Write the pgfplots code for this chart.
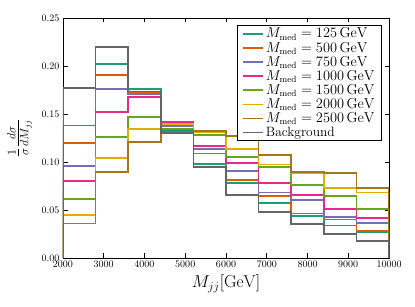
\documentclass[border=0pt]{standalone}
\usepackage{pgfplots}
\pgfplotsset{compat=1.18}
\usepackage{pgfplotstable}
\definecolor{cA}{HTML}{1B9E77}
\definecolor{cB}{HTML}{D95F02}
\definecolor{cC}{HTML}{7570B3}
\definecolor{cD}{HTML}{E7298A}
\definecolor{cE}{HTML}{66A61E}
\definecolor{cF}{HTML}{E6AB02}
\definecolor{cG}{HTML}{A6761D}
\definecolor{cH}{HTML}{666666}
\pgfplotstableread{
x a b c d e f g h
2000 0 0 0 0 0 0 0 0
2000 0.138 0.1195 0.096 0.080 0.0615 0.0448 0.036 0.177
2800 0.202 0.1906 0.1757 0.152 0.1264 0.1038 0.0893 0.220
3600 0.176 0.172 0.1705 0.168 0.1466 0.1347 0.1208 0.1735
4400 0.1323 0.141 0.1375 0.142 0.135 0.1395 0.134 0.130
5200 0.0976 0.109 0.1139 0.117 0.128 0.131 0.1322 0.0945
6000 0.0778 0.0813 0.0906 0.0986 0.1055 0.1135 0.1274 0.0656
6800 0.057 0.0648 0.0682 0.0778 0.0951 0.0973 0.1073 0.0479
7600 0.0438 0.0462 0.0604 0.0658 0.0764 0.0885 0.0899 0.0351
8400 0.0338 0.040 0.0424 0.0513 0.0647 0.0726 0.0889 0.0248
9200 0.0265 0.0282 0.0368 0.042 0.051 0.0682 0.073 0.018
10000 0.0265 0.0282 0.0368 0.042 0.051 0.0682 0.073 0.018
10000 0 0 0 0 0 0 0 0
}\data
\begin{document}
\begin{tikzpicture}
\begin{axis}[name=ax, scale only axis, width=326pt, height=240pt,
  xmin=2000, xmax=10000, ymin=0, ymax=0.25,
  xtick={2000,3000,4000,5000,6000,7000,8000,9000,10000},
  ytick={0,0.05,0.10,0.15,0.20,0.25},
  scaled x ticks=false, scaled y ticks=false,
  yticklabel style={/pgf/number format/.cd, fixed, fixed zerofill, precision=2},
  xticklabel style={/pgf/number format/.cd, fixed, 1000 sep={}},
  tick label style={font=\fontsize{10}{12}\selectfont},
  tick align=inside, tick pos=both, major tick length=4.5pt,
  axis line style={line width=0.8pt},
  every tick/.style={black, line width=0.6pt},
  xlabel={$M_{jj}[\mathrm{GeV}]$},
  ylabel={$\frac{1}{\sigma}\frac{d\sigma}{dM_{jj}}$},
  ylabel shift=3pt,
  label style={font=\fontsize{17}{20}\selectfont},
  hist/.style={const plot mark left, line width=1.7pt, mark=none, line join=miter},
  legend style={at={(0.9785,0.971)}, anchor=north east, draw=black, line width=0.6pt,
    font=\fontsize{13.5}{14}\selectfont, row sep=-1.2pt, inner xsep=5pt, inner ysep=0.8pt},
  legend cell align=left,
  legend image code/.code={\draw[#1, line width=1.7pt] (0pt,0pt) -- (20pt,0pt);},
]
\addplot[hist, cA] table[x=x,y=a]{\data};
\addlegendentry{$M_{\rm med}=125\,\mathrm{GeV}$}
\addplot[hist, cB] table[x=x,y=b]{\data};
\addlegendentry{$M_{\rm med}=500\,\mathrm{GeV}$}
\addplot[hist, cC] table[x=x,y=c]{\data};
\addlegendentry{$M_{\rm med}=750\,\mathrm{GeV}$}
\addplot[hist, cD] table[x=x,y=d]{\data};
\addlegendentry{$M_{\rm med}=1000\,\mathrm{GeV}$}
\addplot[hist, cE] table[x=x,y=e]{\data};
\addlegendentry{$M_{\rm med}=1500\,\mathrm{GeV}$}
\addplot[hist, cF] table[x=x,y=f]{\data};
\addlegendentry{$M_{\rm med}=2000\,\mathrm{GeV}$}
\addplot[hist, cG] table[x=x,y=g]{\data};
\addlegendentry{$M_{\rm med}=2500\,\mathrm{GeV}$}
\addplot[hist, cH] table[x=x,y=h]{\data};
\addlegendentry{Background}
\end{axis}
\path ([xshift=-63pt,yshift=-48pt]ax.south west) rectangle ([xshift=26pt,yshift=18pt]ax.north east);
\end{tikzpicture}
\end{document}
